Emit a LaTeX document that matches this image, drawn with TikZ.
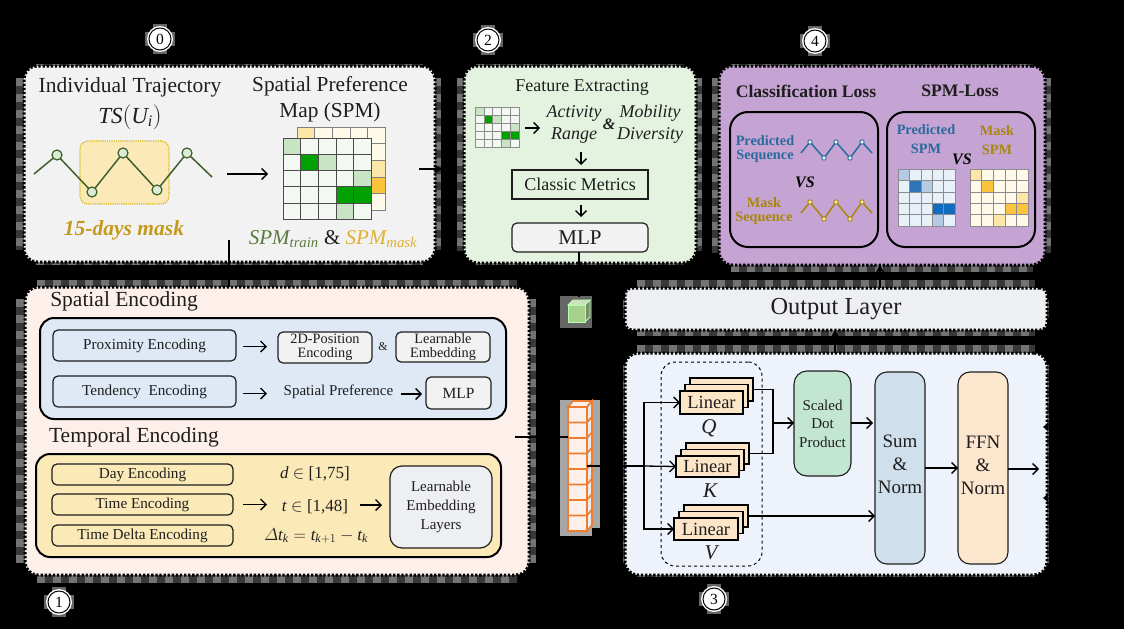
\documentclass[tikz,border=0pt]{standalone}
\usepackage{fontspec}
\setmainfont{Liberation Serif}
\usetikzlibrary{arrows.meta,calc}
\definecolor{ink}{HTML}{1E1E1E}
\definecolor{pale0}{HTML}{F2F2F2}
\definecolor{pale2}{HTML}{E4F3E0}
\definecolor{purp}{HTML}{C5A3D3}
\definecolor{pale1}{HTML}{FDF0EA}
\definecolor{pale3}{HTML}{EEF3FB}
\definecolor{outp}{HTML}{EDEFF2}
\definecolor{blu}{HTML}{DFE8F5}
\definecolor{yel}{HTML}{FBEAB8}
\definecolor{gold}{HTML}{C49A1B}
\definecolor{goldd}{HTML}{A8860B}
\definecolor{bluet}{HTML}{2A6A9E}
\definecolor{olive}{HTML}{3F5F2C}
\definecolor{spmg}{HTML}{5A7A3F}
\definecolor{spmy}{HTML}{E0B030}
\definecolor{dkg}{HTML}{00A000}
\definecolor{ltg}{HTML}{C9E4C5}
\definecolor{pag}{HTML}{F3F9F2}
\definecolor{dky}{HTML}{FCC43C}
\definecolor{lty}{HTML}{FCE6A8}
\definecolor{pay}{HTML}{FFF9EA}
\definecolor{dkb}{HTML}{0F6CBF}
\definecolor{mdb}{HTML}{2E75B6}
\definecolor{ltb}{HTML}{B4CBE6}
\definecolor{pab}{HTML}{E8F1FA}
\definecolor{orng}{HTML}{ED7D31}
\definecolor{linf}{HTML}{FDE6C8}
\definecolor{sdpf}{HTML}{C3E6D3}
\definecolor{sumf}{HTML}{D0DFEC}
\definecolor{ffnf}{HTML}{FDE6CE}
\definecolor{cubef}{HTML}{A9D18E}
\newcommand\fz[2]{\fontsize{#1}{#2}\selectfont}
\tikzset{
  rect/.style={inner sep=0pt,outer sep=0pt,align=center,text=ink},
  dotbox/.style={draw=black,line width=3pt,dash pattern=on 2.3pt off 1.8pt,rounded corners=13pt},
  inbox/.style={draw=ink,line width=1.2pt,rounded corners=5pt},
  bigbox/.style={draw=black,line width=2pt,rounded corners=14pt},
  lab/.style={inner sep=0pt,outer sep=0pt,align=center,text=ink},
  arr/.style={draw=black,line width=1.3pt,-{Straight Barb[length=5.5pt,width=11pt,line width=1.3pt]}},
  lin/.style={draw=black,line width=1.2pt},
  hidden/.style={draw=black,line width=1.6pt,-{Stealth[length=8pt,width=9pt]}}
}
\newcommand\ndbox[7][]{\node[rect,#1,minimum width={((#5)-(#3))*1pt},minimum height={((#6)-(#4))*1pt}] (#2) at ({((#3)+(#5))/2},{((#4)+(#6))/2}) {#7};}
% fringe: x0 y0 x1 y1 left top right bottom
\newcommand\fringe[8]{%
  \draw[black!78,line width=#5pt] ({#1-#5/2},{#2+12}) -- ({#1-#5/2},{#4-12});
  \draw[black!78,line width=#7pt] ({#3+#7/2},{#2+12}) -- ({#3+#7/2},{#4-12});
  \draw[black!78,line width=#6pt] ({#1+12},{#2-#6/2}) -- ({#3-12},{#2-#6/2});
  \draw[black!78,line width=#8pt] ({#1+12},{#4+#8/2}) -- ({#3-12},{#4+#8/2});
  \draw[black!55,line width=#5pt,dash pattern=on 8pt off 8pt] ({#1-#5/2},{#2+12}) -- ({#1-#5/2},{#4-12});
  \draw[black!55,line width=#7pt,dash pattern=on 8pt off 8pt] ({#3+#7/2},{#2+12}) -- ({#3+#7/2},{#4-12});
  \draw[black!55,line width=#6pt,dash pattern=on 8pt off 8pt] ({#1+12},{#2-#6/2}) -- ({#3-12},{#2-#6/2});
  \draw[black!55,line width=#8pt,dash pattern=on 8pt off 8pt] ({#1+12},{#4+#8/2}) -- ({#3-12},{#4+#8/2});
}
% grid: x y cw ch base stroke list
\newcommand\gridmap[7]{%
  \foreach \gc in {0,...,4}\foreach \gr in {0,...,4}
    \filldraw[fill=#5,draw=#6,line width=.6pt] ({#1+\gc*#3},{#2+\gr*#4}) rectangle ++(#3,#4);
  \foreach \gc/\gr/\gk in {#7}
    \filldraw[fill=\gk,draw=#6,line width=.6pt] ({#1+\gc*#3},{#2+\gr*#4}) rectangle ++(#3,#4);
}
\newcommand\numc[4]{%
  \fill[black!60] ({#2-15},{#3-7}) rectangle ({#2+15},{#3+7});
  \fill[black!60] ({#2-7},{#3-15}) rectangle ({#2+7},{#3+15});
  \fill[white] (#2,#3) circle (13);
  \node[circle,draw=black,fill=white,line width=1pt,minimum size=22pt,inner sep=0pt,text=black,font=\fz{15.5}{16}] (#1) at (#2,#3) {#4};
}
% linear stack: name x y w h
\newcommand\linstack[5]{%
  \ndbox[draw=black,line width=1.4pt,fill=linf]{#1back}{#2+10}{#3-13}{#2+10+#4}{#3-13+#5}{}
  \ndbox[draw=black,line width=1.4pt,fill=linf]{#1mid}{#2+5}{#3-6.5}{#2+5+#4}{#3-6.5+#5}{}
  \ndbox[draw=black,line width=1.6pt,fill=linf,font=\fz{18.5}{20}]{#1}{#2}{#3}{#2+#4}{#3+#5}{Linear}
}
\newcommand\wave[4]{%
  \draw[#1,line width=1.5pt,line join=round] plot coordinates {#3};
  \foreach \wx/\wy in {#4}\filldraw[draw=#1,fill=#2,line width=.9pt] (\wx,\wy) circle (2.2);
}
\begin{document}
\begin{tikzpicture}[x=1pt,y=-1pt]
\useasboundingbox (0,0) rectangle (1124,629);
\fill[black] (0,0) rectangle (1124,629);

% fringes
\fringe{24}{66}{435}{262}{8}{2}{6}{3}
\fringe{464}{66}{696}{263}{7}{2}{6}{2}
\fringe{719}{66}{1045}{265}{7}{2}{6}{7}
\fringe{25}{287}{529}{575}{9}{7}{7}{8}
\fringe{625}{288}{1047}{330}{2}{8}{2}{6}
\fringe{625}{353}{1047}{575}{2}{8}{2}{2}

% main panels
\ndbox[dotbox,fill=pale0]{box0}{24}{66}{435}{262}{}
\ndbox[dotbox,fill=pale2]{box2}{464}{66}{696}{263}{}
\ndbox[dotbox,fill=purp]{box4}{719}{66}{1045}{265}{}
\ndbox[dotbox,fill=pale1]{box1}{25}{287}{529}{575}{}
\ndbox[dotbox,fill=outp,rounded corners=7pt,font=\fz{24.4}{26}]{out}{625}{288}{1047}{330}{Output Layer}
\ndbox[dotbox,fill=pale3]{box3}{625}{353}{1047}{575}{}

\numc{n0}{160}{39}{0}
\numc{n2}{488}{40}{2}
\numc{n4}{815}{41}{4}
\numc{n1}{59}{602}{1}
\numc{n3}{714}{599}{3}

% --- panel 0
\node[lab,font=\fz{21.5}{24}] (t0a) at (130,87) {Individual Trajectory};
\node[lab,font=\fz{23}{24}] (t0b) at (130,117) {$\mathit{TS}(\mathit{U}_{\mathit{i}})$};
\node[lab,font=\fz{21.3}{26}] (t0c) at (330,99) {Spatial Preference\\Map (SPM)};
\ndbox[draw=gold!70!yellow,densely dotted,line width=1.2pt,fill=yel,rounded corners=8pt]{mask}{80}{141}{169}{204}{}
\draw[olive,line width=1.5pt,line join=round] plot coordinates {(34,174)(57,155)(92,192)(123,153)(157,190)(187,153)(212,177)};
\foreach \px/\py in {57/155,92/192,123/153,157/190,187/153}
  \filldraw[draw=olive,fill=ltg!70!white,line width=1.2pt] (\px,\py) circle (5);
\node[lab,text=gold,font=\fz{21.5}{22}\bfseries\itshape] (t0d) at (124,230) {15-days mask};
\coordinate (a0s) at (227,174);
\coordinate (a0e) at (268,174);
\draw[arr] (a0s) -- (a0e);
\gridmap{297}{127}{17.6}{16.6}{pay}{gray}{0/0/lty,4/2/lty,4/3/dky}
\gridmap{283}{138}{17.6}{16.2}{pag}{black!70}{0/0/ltg,1/1/dkg,2/1/ltg,4/2/ltg,3/3/dkg,4/3/dkg,3/4/ltg}
\node[lab,font=\fz{21}{22}] (t0e) at (333,239) {$\color{spmg}\mathit{SPM}_{\mathit{train}}$ \& $\color{spmy}\mathit{SPM}_{\mathit{mask}}$};

% --- panel 2
\node[lab,font=\fz{18}{20}] (t2a) at (582,87) {Feature Extracting};
\gridmap{475}{107}{8.8}{8}{pag}{black!45}{0/0/ltg,1/1/dkg,2/1/ltg,4/2/ltg,3/3/dkg,4/3/dkg,3/4/ltg}
\coordinate (a2s) at (525,128);
\coordinate (a2e) at (540,128);
\draw[arr] (a2s) -- (a2e);
\node[lab,font=\fz{18}{22}\itshape] (t2b) at (574,124) {Activity\\Range};
\node[lab,font=\fz{18}{22}\itshape] (t2c) at (650,124) {Mobility\\Diversity};
\node[lab,font=\fz{16}{18}\bfseries\itshape] (t2d) at (609,124) {\&};
\ndbox[draw=ink,line width=1.1pt,font=\fz{18}{22}]{cm}{512}{170}{648}{199}{Classic Metrics}
\ndbox[inbox,fill=pale0,font=\fz{21}{24}]{mlp2}{512}{223}{648}{252}{MLP}
\coordinate (a2m) at (581,152);
\draw[arr] (a2m) -- ($(a2m |- cm.north)+(0,-5)$);
\draw[arr] ($(cm.south -| a2m)+(0,6)$) -- ($(a2m |- mlp2.north)+(0,-6)$);

% --- panel 4
\node[lab,font=\fz{17.6}{20}\bfseries] (t4a) at (806,91) {Classification Loss};
\node[lab,font=\fz{17.6}{20}\bfseries] (t4b) at (960,91) {SPM-Loss};
\ndbox[draw=black,line width=2pt,rounded corners=18pt]{cl}{730}{112}{878}{247}{}
\ndbox[draw=black,line width=2pt,rounded corners=18pt]{sl}{887}{112}{1035}{247}{}
\node[lab,text=bluet,font=\fz{14.3}{14.5}\bfseries] (t4c) at (765,149) {Predicted\\Sequence};
\node[lab,text=goldd,font=\fz{14.3}{14.5}\bfseries] (t4d) at (764,211) {Mask\\Sequence};
\node[lab,text=black,font=\fz{16}{18}\bfseries\itshape] (t4e) at (805,182) {VS};
\wave{bluet}{pab}{(801,153)(810,142)(824,158)(836,142)(850,158)(862,142)(872,153)}{810/142,824/158,836/142,850/158,862/142}
\wave{goldd}{lty}{(801,213)(810,202)(824,219)(836,202)(850,219)(862,202)(872,213)}{810/202,824/219,836/202,850/219,862/202}
\node[lab,text=bluet,font=\fz{14.3}{19}\bfseries] (t4f) at (926,139) {Predicted\\SPM};
\node[lab,text=goldd,font=\fz{14.3}{19}\bfseries] (t4g) at (997,140) {Mask\\SPM};
\node[lab,text=black,font=\fz{16}{18}\bfseries\itshape] (t4h) at (962,159) {VS};
\gridmap{898}{169}{11.4}{11.4}{pab}{black!45}{0/0/ltb,1/1/mdb,2/1/ltb,3/3/dkb,4/3/dkb,3/4/ltb}
\gridmap{970}{169}{11.6}{11.4}{pay}{black!45}{0/0/lty,1/1/dky,4/2/lty,3/3/dky,4/3/dky,2/4/lty}

% --- panel 1
\node[lab,font=\fz{21.5}{22}] (t1a) at (124,301) {Spatial Encoding};
\ndbox[bigbox,fill=blu]{sp}{40}{318}{506}{419}{}
\ndbox[inbox,fill=blu,font=\fz{15.2}{17}]{prox}{53}{330}{236}{361}{Proximity Encoding}
\ndbox[inbox,fill=blu,font=\fz{15.2}{17}]{tend}{53}{376}{236}{407}{Tendency\ \ Encoding}
\ndbox[inbox,fill=pale0,font=\fz{14.3}{14}]{pos}{278}{332}{372}{363}{2D-Position\\Encoding}
\ndbox[inbox,fill=pale0,font=\fz{14.3}{14}]{lem}{396}{332}{490}{362}{Learnable\\Embedding}
\node[lab,font=\fz{12}{14}] (amp) at (383,347) {\&};
\node[lab,font=\fz{15}{16}] (spf) at (338.5,392) {Spatial Preference};
\ndbox[inbox,fill=pale0,font=\fz{15.5}{17}]{mlp1}{426}{377}{491}{409}{MLP}
\draw[arr] ($(prox.east)+(7,1)$) -- ++(24,0);
\draw[arr] ($(tend.east)+(7,2)$) -- ++(24,0);
\draw[arr] ($(spf.east |- mlp1.west)+(8,1)$) -- ($(mlp1.west)+(-4,1)$);
\node[lab,font=\fz{21.5}{22}] (t1b) at (134,437) {Temporal Encoding};
\ndbox[bigbox,fill=yel]{tp}{36}{454}{501}{557}{}
\ndbox[inbox,fill=yel,font=\fz{15.2}{17}]{day}{52}{464}{233}{485}{Day Encoding}
\ndbox[inbox,fill=yel,font=\fz{15.2}{17}]{tim}{52}{494}{233}{515}{Time Encoding}
\ndbox[inbox,fill=yel,font=\fz{15.2}{17}]{del}{52}{525}{233}{546}{Time Delta Encoding}
\node[lab,font=\fz{17}{18}] (m1) at (315,474) {\textit{d} $\in$ [1,75]};
\node[lab,font=\fz{17}{18}] (m2) at (315,507) {\textit{t} $\in$ [1,48]};
\node[lab,font=\fz{17}{18}] (m3) at (316,536) {$\mathnormal{\Delta}\mathit{t}_{\mathit{k}}=\mathit{t}_{\mathit{k}+1}-\mathit{t}_{\mathit{k}}$};
\ndbox[inbox,rounded corners=12pt,fill=outp,font=\fz{15}{19}]{lel}{390}{466}{492}{548}{Learnable\\Embedding\\Layers}
\draw[arr] ($(tim.east)+(10,0)$) -- ($(tim.east)+(34,0)$);
\draw[arr] ($(m2.east)+(12,-2)$) -- ($(lel.west)+(-8,-2)$);

% --- stack and cube
\fill[black!35] (560,400) rectangle (600,528);
\fill[black!35] (560,528) rectangle (592,536);
\fill[black!60] (560,296) rectangle (592,328);
\filldraw[fill=cubef!60!white,draw=white!75!green,line width=.8pt] (568,305) -- (573,300) -- (590,300) -- (585,305) -- cycle;
\filldraw[fill=cubef!70!black,draw=white!75!green,line width=.8pt] (585,305) -- (590,300) -- (590,317) -- (585,322) -- cycle;
\ndbox[fill=cubef,draw=white!70!green,line width=.8pt]{cube}{568}{305}{585}{322}{}
\filldraw[fill=pale1,draw=orng,line width=1.6pt] (568,407) -- (573,401) -- (592,401) -- (587,407) -- cycle;
\filldraw[fill=black!8,draw=orng,line width=1.6pt] (587,407) -- (592,401) -- (592,525) -- (587,531) -- cycle;
\ndbox[fill=pale1,draw=orng,line width=2pt]{stack}{568}{407}{587}{531}{}
\foreach \k in {1,...,7}{
  \draw[orng,line width=1.6pt] (568,{407+\k*15.5}) -- (587,{407+\k*15.5}) -- (592,{401+\k*15.5});
}

% --- panel 3
\ndbox[draw=black,dashed,line width=1pt,rounded corners=14pt]{grp}{661}{362}{762}{566}{}
\linstack{Q}{680}{391}{63}{23}
\linstack{K}{676}{456}{63}{21}
\linstack{V}{674}{518}{64}{22}
\node[lab,font=\fz{21}{22}\itshape] (lq) at (709,428) {Q};
\node[lab,font=\fz{21}{22}\itshape] (lk) at (710,491) {K};
\node[lab,font=\fz{21}{22}\itshape] (lv) at (711,553) {V};
\ndbox[draw=ink,line width=1.1pt,rounded corners=13pt,fill=sdpf,font=\fz{15}{18.5}]{sdp}{794}{371}{851}{476}{Scaled\\Dot\\Product}
\ndbox[draw=ink,line width=1.1pt,rounded corners=12pt,fill=sumf]{sum}{875}{372}{925}{564}{}
\node[lab,font=\fz{19}{22}] (sumt) at (900,464.5) {Sum\\[1pt]\&\\[1pt]Norm};
\ndbox[draw=ink,line width=1.1pt,rounded corners=12pt,fill=ffnf]{ffn}{958}{372}{1008}{564}{}
\node[lab,font=\fz{19}{22}] (ffnt) at (983,465.5) {FFN\\[1pt]\&\\[1pt]Norm};
\coordinate (jn) at (644,466);
\coordinate (jm) at (773,423);
\draw[lin] (stack.east |- jn) -- (jn);
\draw[arr] (jn) -- (K.west);
\draw[arr] (jn) |- (Q.west);
\draw[arr] (jn) |- (V.west);
\draw[lin] (Qback.east) -| (jm);
\draw[lin] (Kback.east) -| (jm);
\draw[arr] (jm) -- (sdp.west |- jm);
\draw[arr] (sdp.east |- jm) -- ($(sum.west |- jm)+(-2,0)$);
\draw[arr] (Vback.east) -- (sum.west |- Vback.east);
\coordinate (j2) at (925,468);
\draw[arr] (j2) -- (ffn.west |- j2);
\coordinate (j3) at (1039,469);
\draw[arr] (ffn.east |- j3) -- (j3);

% --- black connectors between panels
\coordinate (h0a) at (229,240);
\coordinate (h0b) at (419,169);
\coordinate (h0c) at (442,169);
\coordinate (h2x) at (579,297);
\coordinate (h3x) at (835,353);
\coordinate (h4x) at (880,288);
\draw[lin] (h0a) -- (h0a |- box1.north);
\draw[hidden] (h0b) -- (h0c);
\draw[lin] (mlp2.south -| h2x) -- (h2x);
\coordinate (h1a) at (515,437);
\draw[lin] (h1a) -- (stack.west |- h1a);
\draw[hidden] (h3x) -- (out.south -| h3x);
\draw[hidden] (h4x) -- (box4.south -| h4x);
\fill[black] (1043,427) -- (1048,423) -- (1048,431) -- cycle;
\fill[black] (1043,498) -- (1048,494) -- (1048,502) -- cycle;
\end{tikzpicture}
\end{document}
